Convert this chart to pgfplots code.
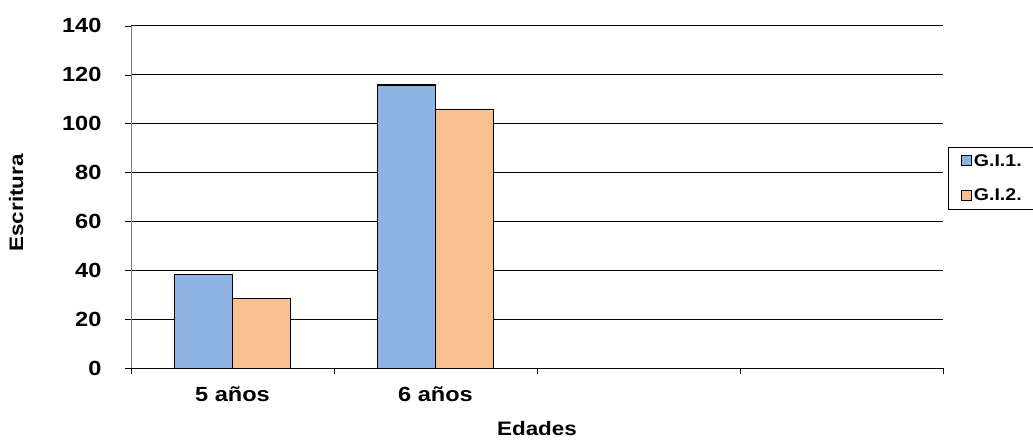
\documentclass[border=0pt]{standalone}
\usepackage{pgfplots}
\pgfplotsset{compat=1.18}
\usepackage{fontspec}
\setmainfont{Liberation Sans}
\newfontfamily\widefont[FakeStretch=1.15]{Liberation Sans}
\definecolor{gblue}{RGB}{143,180,227}
\definecolor{gorange}{RGB}{250,192,144}
\begin{document}
\begin{tikzpicture}[x=1pt,y=1pt]
\useasboundingbox (0,0) rectangle (1033,440);
\begin{axis}[
  at={(131pt,71.7pt)}, anchor=south west,
  scale only axis, width=812pt, height=342.6pt,
  ybar=0pt, bar width=58pt,
  xmin=-0.5, xmax=3.5, ymin=0, ymax=140,
  axis x line=bottom, axis y line=left,
  axis line style={-},
  y axis line style={gray},
  xtick={0,1}, xticklabels={5 años,6 años},
  minor xtick={-0.5,0.5,1.5,2.5,3.5},
  major x tick style={draw=none},
  minor x tick style={black},
  ytick={0,20,...,140},
  y tick style={black},
  tick align=outside,
  major tick length=6pt, minor tick length=6pt,
  ymajorgrids, grid style={black, line width=0.8pt},
  /pgf/number format/assume math mode=true,
  tick label style={font=\widefont\fontsize{20.5}{24}\selectfont\bfseries},
  yticklabel style={xshift=-20pt},
  xticklabel style={yshift=-9pt},
  xlabel={Edades}, ylabel={Escritura},
  label style={font=\widefont\fontsize{19.5}{22}\selectfont\bfseries},
  xlabel style={yshift=-13pt},
  ylabel style={yshift=32pt, xshift=-6pt},
  legend style={at={(1.006,0.646)}, anchor=north west, draw=black, fill=white,
    font=\widefont\fontsize{17}{20}\selectfont\bfseries, row sep=17pt,
    inner ysep=5pt, inner xsep=13pt},
  legend image code/.code={\draw[#1,draw=black,line width=0.8pt] (0pt,-5pt) rectangle (10pt,5pt);},
  legend cell align=left,
]
\addplot[fill=gblue, draw=black, line width=1.3pt] coordinates {(0,38.4) (1,115.8)};
\addplot[fill=gorange, draw=black, line width=1.3pt] coordinates {(0,28.6) (1,105.8)};
\legend{G.I.1.,G.I.2.}
\end{axis}
\end{tikzpicture}
\end{document}
